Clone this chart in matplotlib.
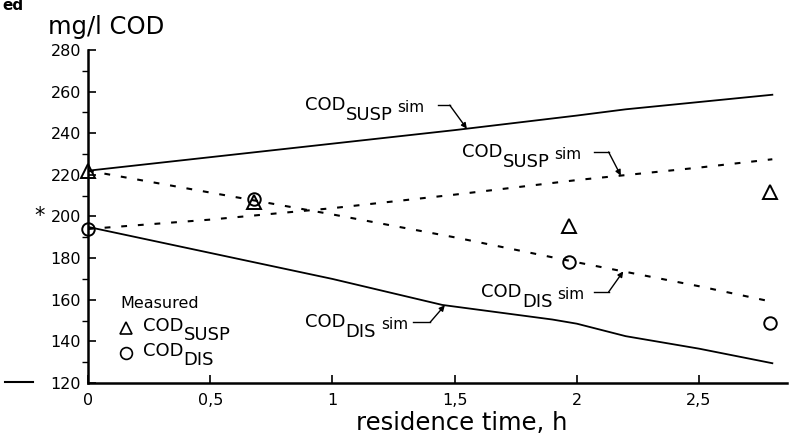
import numpy as np
import matplotlib
matplotlib.use("Agg")
import matplotlib.pyplot as plt
from matplotlib.lines import Line2D

plt.rcParams['font.family'] = ['DejaVu Sans']
plt.rcParams['lines.scale_dashes'] = False

# simulated COD, solid lines
susp_sim_t = [0, 0.5, 1.0, 1.5, 2.0, 2.2, 2.5, 2.8]
susp_sim = [222, 228.5, 235, 241.5, 248.5, 251.5, 255, 258.5]
dis_sim_t = [0, 0.5, 1.0, 1.45, 1.9, 2.0, 2.2, 2.5, 2.8]
dis_sim = [195, 182.5, 170, 157.5, 150.5, 148.5, 142.5, 136.5, 129.5]

# simulated COD, dashed lines
susp_dash_t = [0, 0.5, 1.0, 1.5, 2.0, 2.5, 2.8]
susp_dash = [194, 198.5, 204, 210.5, 217.5, 223.5, 227.5]
dis_dash_t = [0, 0.5, 1.0, 1.5, 2.0, 2.5, 2.8]
dis_dash = [222, 211.5, 201, 190, 178, 166.5, 159]

# measured
meas_t = [0, 0.68, 1.97, 2.79]
susp_meas = [222, 207, 195.5, 212]
dis_meas = [194, 208.5, 178, 149]

xticks = [0, 0.5, 1, 1.5, 2, 2.5]
xticklabels = ['0', '0,5', '1', '1,5', '2', '2,5']
yticks = list(range(120, 281, 20))

fig = plt.figure(figsize=(7.95, 4.45), dpi=100)
ax = fig.add_axes([88/795, 1-383/445, 699/795, 333/445])

ax.plot(susp_sim_t, susp_sim, color='k', lw=1.3)
ax.plot(dis_sim_t, dis_sim, color='k', lw=1.3)
ax.plot(susp_dash_t, susp_dash, color='k', lw=1.5, linestyle=(0, (4.2, 7.8)))
ax.plot(dis_dash_t, dis_dash, color='k', lw=1.5, linestyle=(0, (4.2, 7.8)))
ax.plot(meas_t, susp_meas, linestyle='none', marker='^', ms=10, mfc='none',
        mec='k', mew=1.4, clip_on=False)
ax.plot(meas_t, dis_meas, linestyle='none', marker='o', ms=9, mfc='none',
        mec='k', mew=1.4, clip_on=False)

ax.set_xlim(0, 2.86)
ax.set_ylim(120, 280)
ax.set_xticks(xticks)
ax.set_xticklabels(xticklabels)
ax.set_yticks(yticks)
ax.set_yticks(list(range(130, 280, 20)), minor=True)
ax.tick_params(axis='both', direction='in', labelsize=11.5, width=1.2)
ax.tick_params(axis='y', which='major', length=6, pad=5)
ax.tick_params(axis='y', which='minor', length=4, width=1.0)
ax.tick_params(axis='x', which='major', length=6, pad=7)
for s in ['top', 'right']:
    ax.spines[s].set_visible(False)
for s in ['left', 'bottom']:
    ax.spines[s].set_linewidth(1.8)

ax.set_xlabel('residence time, h', fontsize=17.5)
ax.xaxis.set_label_coords((462-88)/699, -0.085)
fig.text(48/795, 1-27/445, 'mg/l COD', fontsize=17.5, va='center', ha='left')


def cod_label(x, y, sub, sim=True):
    t1 = ax.text(x, y, 'COD', fontsize=13, va='center', ha='left')
    t2 = ax.annotate(sub, xy=(1, 0.5), xycoords=t1, xytext=(0, -7),
                     textcoords='offset points', fontsize=13, va='center', ha='left')
    if sim:
        ax.annotate('sim', xy=(1, 0.5), xycoords=t2, xytext=(3.5, 5.5),
                    textcoords='offset points', fontsize=11, va='center', ha='left')


def leader(y, x0, xc, xt, line_t, line_v):
    ax.plot([x0, xc], [y, y], color='k', lw=1.0)
    yt = np.interp(xt, line_t, line_v)
    ax.annotate('', xy=(xt, yt), xytext=(xc, y),
                arrowprops=dict(arrowstyle='-|>', color='k', lw=1.0,
                                mutation_scale=8, shrinkA=0, shrinkB=0))


cod_label(0.888, 253.5, 'SUSP')
leader(253.5, 1.43, 1.48, 1.55, susp_sim_t, susp_sim)
cod_label(1.53, 231, 'SUSP')
leader(231, 2.07, 2.13, 2.18, susp_dash_t, susp_dash)
cod_label(1.61, 163.7, 'DIS')
leader(163.7, 2.07, 2.13, 2.19, dis_dash_t, dis_dash)
cod_label(0.888, 149.2, 'DIS')
leader(149.2, 1.33, 1.40, 1.46, dis_sim_t, dis_sim)

# legend drawn by hand
ax.text(0.131, 158, 'Measured', fontsize=11.5, va='center', ha='left')
ax.plot([0.155], [146.3], marker='^', ms=9, mfc='none', mec='k', mew=1.2)
ax.plot([0.155], [134.3], marker='o', ms=8.5, mfc='none', mec='k', mew=1.2)
cod_label(0.225, 147.5, 'SUSP', sim=False)
cod_label(0.225, 135.5, 'DIS', sim=False)

# stray marks of the scanned page
fig.text(2/795, 1-6/445, 'ed', fontsize=11, fontweight='bold', va='center')
fig.text(40/795, 1-216/445, '*', fontsize=15, va='center', ha='center')
fig.add_artist(Line2D([5/795, 33/795], [1-382/445, 1-382/445], color='k', lw=1.5))

fig.savefig('out.png', dpi=100)
